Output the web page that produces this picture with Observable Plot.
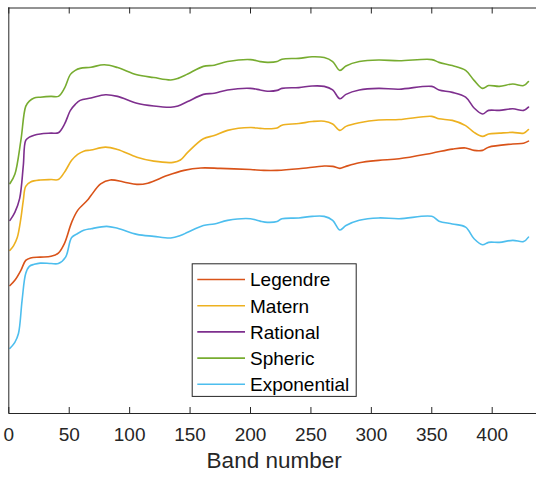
<!DOCTYPE html>
<html>
<head>
<meta charset="utf-8">
<script src="https://cdn.jsdelivr.net/npm/d3@7"></script>
<script src="https://cdn.jsdelivr.net/npm/@observablehq/plot@0.6"></script>
<style>
  html, body { margin: 0; padding: 0; background: #fff; }
  #chart { position: relative; width: 536px; height: 477px; }
</style>
</head>
<body>
<div id="chart"></div>
<script>
// ---- Data (y in arbitrary units, no y ticks) ----
const seriesNames = ["Legendre", "Matern", "Rational", "Spheric", "Exponential"];
const seriesColors = ["#D95319", "#EDB120", "#7E2F8E", "#77AC30", "#4DBEEE"];
const xTicks = [0, 50, 100, 150, 200, 250, 300, 350, 400];
const xDomain = [0, 440];
const yDomain = [0, 1.014];

const legendreBands = [1,5,10,14,18,26,35,41,46,52,57,65,68,76,84,95,106,115,131,145,159,175,200,211,222,240,261,268,274,279,290,306,323,350,367,378,385,392,397,417,426,430];
const legendreValues = [0.320,0.333,0.358,0.383,0.389,0.391,0.393,0.401,0.425,0.478,0.508,0.533,0.545,0.574,0.584,0.579,0.573,0.576,0.595,0.608,0.614,0.613,0.610,0.608,0.608,0.612,0.619,0.618,0.613,0.618,0.627,0.633,0.637,0.651,0.661,0.664,0.658,0.658,0.666,0.674,0.676,0.681];

const maternBands = [1,4,7,10,12,14,18,26,35,41,46,52,57,62,68,80,90,106,120,136,142,148,161,170,181,200,208,214,222,226,240,251,261,268,274,279,290,306,323,350,356,367,378,385,392,397,406,417,426,430];
const maternValues = [0.408,0.420,0.440,0.488,0.533,0.568,0.579,0.584,0.585,0.585,0.603,0.633,0.648,0.656,0.659,0.666,0.660,0.641,0.631,0.628,0.634,0.653,0.687,0.695,0.708,0.715,0.713,0.712,0.714,0.721,0.725,0.730,0.731,0.724,0.708,0.718,0.727,0.734,0.735,0.743,0.737,0.733,0.720,0.703,0.693,0.699,0.701,0.703,0.701,0.710];

const rationalBands = [1,5,9,12,14,17,21,26,35,41,46,51,55,59,68,80,90,106,120,134,140,148,161,170,181,200,208,214,222,226,240,251,261,268,274,279,290,306,323,350,356,367,378,385,392,397,406,417,426,430];
const rationalValues = [0.483,0.503,0.538,0.620,0.683,0.691,0.696,0.699,0.701,0.702,0.723,0.758,0.773,0.783,0.789,0.797,0.793,0.776,0.769,0.766,0.769,0.780,0.798,0.801,0.809,0.813,0.809,0.806,0.808,0.813,0.815,0.819,0.818,0.809,0.787,0.798,0.809,0.813,0.811,0.818,0.809,0.803,0.791,0.764,0.749,0.758,0.758,0.762,0.758,0.766];

const sphericBands = [1,5,10,14,17,21,26,35,41,46,51,55,59,68,79,90,106,120,134,140,148,161,170,181,200,208,214,222,226,240,251,261,268,274,279,290,306,323,350,356,367,378,385,392,397,406,417,426,430];
const sphericValues = [0.575,0.598,0.683,0.768,0.781,0.789,0.791,0.793,0.793,0.813,0.848,0.858,0.863,0.866,0.872,0.865,0.847,0.840,0.834,0.838,0.849,0.868,0.871,0.880,0.885,0.880,0.878,0.880,0.886,0.888,0.892,0.890,0.880,0.858,0.869,0.880,0.884,0.882,0.885,0.878,0.870,0.858,0.833,0.813,0.820,0.818,0.824,0.820,0.830];

const exponentialBands = [1,5,8,11,14,17,21,26,35,41,47,52,57,62,68,81,90,106,120,134,142,148,161,170,181,200,208,214,222,226,240,251,261,268,274,279,290,306,323,350,356,367,378,385,392,397,406,417,426,430];
const exponentialValues = [0.163,0.178,0.200,0.283,0.350,0.368,0.373,0.376,0.375,0.375,0.391,0.440,0.450,0.458,0.462,0.468,0.463,0.448,0.443,0.439,0.445,0.453,0.470,0.474,0.483,0.487,0.481,0.478,0.480,0.487,0.489,0.493,0.493,0.483,0.459,0.470,0.483,0.489,0.487,0.493,0.481,0.474,0.466,0.437,0.422,0.428,0.428,0.433,0.430,0.441];

// ---- Build a tidy table from the arrays ----
const seriesTable = [
  ["Legendre", legendreBands, legendreValues],
  ["Matern", maternBands, maternValues],
  ["Rational", rationalBands, rationalValues],
  ["Spheric", sphericBands, sphericValues],
  ["Exponential", exponentialBands, exponentialValues]
];
const data = seriesTable.flatMap(([name, bands, values]) =>
  bands.map((b, i) => ({series: name, band: b, value: values[i]})));

// ---- Layout ----
const W = 536, H = 477;
const mLeft = 8.3, mTop = 7.5, mBottom = 64;
const frameH = H - mTop - mBottom;
const axisColor = "#262626";
const font = "'Liberation Sans', Arial, Helvetica, sans-serif";

const plot = Plot.plot({
  width: W,
  height: H,
  marginLeft: mLeft,
  marginRight: 0,
  marginTop: mTop,
  marginBottom: mBottom,
  style: {fontFamily: font, fontSize: "19px", color: axisColor, background: "#fff"},
  x: {domain: xDomain, range: [mLeft, mLeft + 1.2085 * xDomain[1]]},
  y: {domain: yDomain, range: [H - mBottom, mTop], axis: null},
  color: {domain: seriesNames, range: seriesColors},
  marks: [
    Plot.line(data, {x: "band", y: "value", z: "series", stroke: "series", strokeWidth: 1.6, curve: "catmull-rom"}),
    Plot.ruleY([yDomain[0]], {stroke: axisColor, strokeWidth: 1}),
    Plot.ruleY([yDomain[1]], {stroke: axisColor, strokeWidth: 1}),
    Plot.ruleX([xDomain[0]], {stroke: axisColor, strokeWidth: 1}),
    Plot.tickX(xTicks, {x: d => d, stroke: axisColor, insetTop: frameH - 6}),
    Plot.tickX(xTicks, {x: d => d, stroke: axisColor, insetBottom: frameH - 6}),
    Plot.axisX({anchor: "bottom", ticks: xTicks, tickSize: 0, tickPadding: 14, label: null, fontSize: 19, fill: axisColor})
  ]
});

document.getElementById("chart").appendChild(plot);

// ---- Axis title and legend ----
const svg = d3.select(plot);
const xs = plot.scale("x");
const xMid = (xs.range[0] + xs.range[1]) / 2;
svg.append("text")
  .attr("x", xMid).attr("y", 468.3)
  .attr("text-anchor", "middle")
  .attr("font-family", font).attr("font-size", 22.5)
  .attr("fill", axisColor)
  .text("Band number");

const lg = svg.append("g").attr("font-family", font).attr("font-size", 19).attr("text-anchor", "start");
lg.append("rect")
  .attr("x", 192.2).attr("y", 263.8).attr("width", 164).attr("height", 132.6)
  .attr("fill", "#fff").attr("stroke", axisColor).attr("stroke-width", 1);
seriesNames.forEach((name, i) => {
  const yy = 279.5 + i * 26.2;
  lg.append("line")
    .attr("x1", 197.3).attr("x2", 245).attr("y1", yy).attr("y2", yy)
    .attr("stroke", seriesColors[i]).attr("stroke-width", 1.6);
  lg.append("text")
    .attr("x", 250).attr("y", yy + 6.9)
    .attr("text-anchor", "start")
    .attr("fill", "#000")
    .text(name);
});
</script>
</body>
</html>
